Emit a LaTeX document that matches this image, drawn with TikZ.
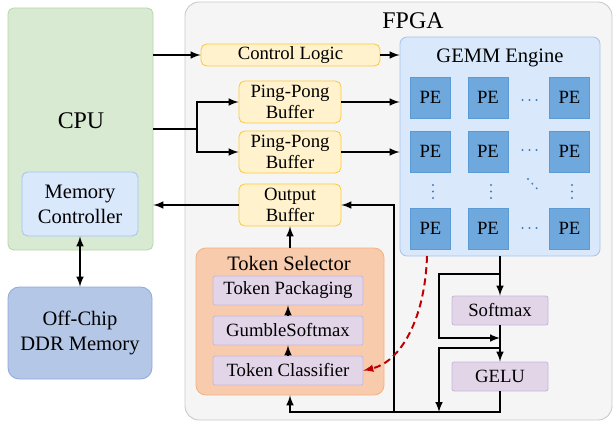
\documentclass[tikz,border=0pt]{standalone}
\usepackage{fontspec}
\setmainfont{Liberation Serif}
\usetikzlibrary{arrows}

\definecolor{cpuFill}{HTML}{D9EAD3}
\definecolor{cpuLine}{HTML}{B6D7A8}
\definecolor{mcFill}{HTML}{DAE8FC}
\definecolor{mcLine}{HTML}{A9C4EB}
\definecolor{ddrFill}{HTML}{B4C7E7}
\definecolor{ddrLine}{HTML}{8FAADC}
\definecolor{fpgaFill}{HTML}{F5F5F5}
\definecolor{fpgaLine}{HTML}{C8C8C8}
\definecolor{bufFill}{HTML}{FFF2CC}
\definecolor{bufLine}{HTML}{FFC83D}
\definecolor{peFill}{HTML}{6FA8DC}
\definecolor{peLine}{HTML}{5B9BD5}
\definecolor{dotBlue}{HTML}{3D7FC4}
\definecolor{tsFill}{HTML}{F8CBAD}
\definecolor{tsLine}{HTML}{F4B183}
\definecolor{opFill}{HTML}{E1D5E7}
\definecolor{opLine}{HTML}{C9B8D9}
\definecolor{hintRed}{HTML}{C00000}

\tikzset{
  wh/.style 2 args={minimum width=#1*0.25mm, minimum height=#2*0.25mm},
  blk/.style={draw, inner sep=0pt, align=center, line width=0.6pt,
    font=\fontsize{13.3}{15}\selectfont},
  cpubox/.style={blk, fill=cpuFill, draw=cpuLine, rounded corners=4pt},
  mcbox/.style={blk, fill=mcFill, draw=mcLine, rounded corners=4pt,
    font=\fontsize{14.6}{17.7}\selectfont},
  ddrbox/.style={blk, fill=ddrFill, draw=ddrLine, rounded corners=8pt,
    font=\fontsize{14.6}{17.7}\selectfont},
  fpgabox/.style={blk, fill=fpgaFill, draw=fpgaLine, rounded corners=10pt},
  bufbox/.style={blk, fill=bufFill, draw=bufLine, rounded corners=4pt},
  gemmbox/.style={blk, fill=mcFill, draw=mcLine, rounded corners=5pt},
  pe/.style={blk, fill=peFill, draw=peLine, line width=0.4pt, wh={40}{41}},
  tsbox/.style={blk, fill=tsFill, draw=tsLine, rounded corners=7pt},
  opbox/.style={blk, fill=opFill, draw=opLine, rounded corners=1.5pt},
  biglbl/.style={font=\fontsize{17}{20}\selectfont, inner sep=0pt},
  midlbl/.style={font=\fontsize{14.6}{17}\selectfont, inner sep=0pt},
  pedot/.style={fill=dotBlue},
  wire/.style={line width=1.4pt},
}

\begin{document}
\begin{tikzpicture}[x=0.25mm,y=-0.25mm,>=latex]
  \useasboundingbox (0,0) rectangle (613,428);

  % host side
  \node[cpubox,wh={145}{242}] (cpu) at (80.5,129) {};
  \node[biglbl] (cpulbl) at (81,121) {CPU};
  \node[mcbox,wh={116}{64}] (memctrl) at (80,204) {Memory\\Controller};
  \node[ddrbox,wh={144}{92}] (ddr) at (80,333) {Off-Chip\\DDR Memory};

  % fpga
  \node[fpgabox,wh={427}{418}] (fpga) at (398.5,211) {};
  \node[biglbl] (fpgalbl) at (413,21) {FPGA};

  \node[bufbox,wh={179}{22}] (ctrl) at (290.5,55) {Control Logic};
  \node[bufbox,wh={102}{42}] (pp1) at (290,102) {Ping-Pong\\Buffer};
  \node[bufbox,wh={102}{42}] (pp2) at (290,152) {Ping-Pong\\Buffer};
  \node[bufbox,wh={102}{42}] (outbuf) at (290,205) {Output\\Buffer};

  \node[gemmbox,wh={200}{219}] (gemm) at (500,146.5) {};
  \node[midlbl] (gemmlbl) at (500,58) {GEMM Engine};
  \foreach \r/\y in {1/97.5,2/151.5,3/228.5} {
    \foreach \c/\x in {1/430.5,2/488,3/569.5} {
      \node[pe] (pe\r\c) at (\x,\y) {PE};
    }
  }
  % dots between the PEs
  \foreach \y in {100,150,228}
    \foreach \x in {522.5,529.5,536.5}
      \fill[pedot] (\x,\y) circle (0.75pt);
  \foreach \x in {433,491,572}
    \foreach \y in {185,191.5,198}
      \fill[pedot] (\x,\y) circle (0.75pt);
  \foreach \x/\y in {528/179,532.3/183.7,536.7/188.3}
    \fill[pedot] (\x,\y) circle (0.75pt);

  \node[tsbox,wh={188}{147}] (tsel) at (290,321.5) {};
  \node[midlbl] (tsellbl) at (289,263) {Token Selector};
  \node[opbox,wh={150}{29}] (tpack) at (288,290.5) {Token Packaging};
  \node[opbox,wh={150}{29}] (gsm) at (288,330.5) {GumbleSoftmax};
  \node[opbox,wh={150}{29}] (tcls) at (288,370.5) {Token Classifier};

  \node[opbox,wh={96}{29}] (smax) at (500,310.5) {Softmax};
  \node[opbox,wh={96}{29}] (gelu) at (500,376.5) {GELU};

  % connections
  \coordinate (split) at (197,129);
  \draw[wire,->] (cpu.east |- ctrl.west) -- (ctrl.west);
  \draw[wire,->] (ctrl.east) -- (gemm.west |- ctrl.east);
  \draw[wire] (cpu.east) -- (split);
  \draw[wire,->] (split) |- (pp1.west);
  \draw[wire,->] (split) |- (pp2.west);
  \draw[wire,->] (pp1.east) -- (gemm.west |- pp1.east);
  \draw[wire,->] (pp2.east) -- (gemm.west |- pp2.east);
  \draw[wire,->] (outbuf.west) -- (cpu.east |- outbuf.west);
  \draw[wire,<->] (memctrl.south) -- (ddr.north);

  \draw[wire,->] (tsel.north) -- (outbuf.south);
  \draw[wire,->] (tcls.north) -- (gsm.south);
  \draw[wire,->] (gsm.north) -- (tpack.south);

  \coordinate (fork1) at (500,274);
  \coordinate (join1) at (500,338);
  \coordinate (fork2) at (500,348);
  \coordinate (merge) at (439,412);
  \coordinate (tap) at (394,412);
  \draw[wire,->] (gemm.south -| smax.north) -- (smax.north);
  \draw[wire,->] (fork1) -- ++(-61,0) |- (join1);
  \draw[wire,->] (smax.south) -- (gelu.north);
  \draw[wire,->] (fork2) -| (merge);
  \draw[wire,->] (gelu.south) |- (merge) -| (tsel.south);
  \draw[wire,->] (tap) |- (outbuf.east);

  \coordinate (hint) at (427,256);
  \draw[line width=1.4pt,hintRed,dash pattern=on 5pt off 3pt,->]
    (hint) .. controls (425,320) and (400,362) .. (tcls.east);
\end{tikzpicture}
\end{document}
